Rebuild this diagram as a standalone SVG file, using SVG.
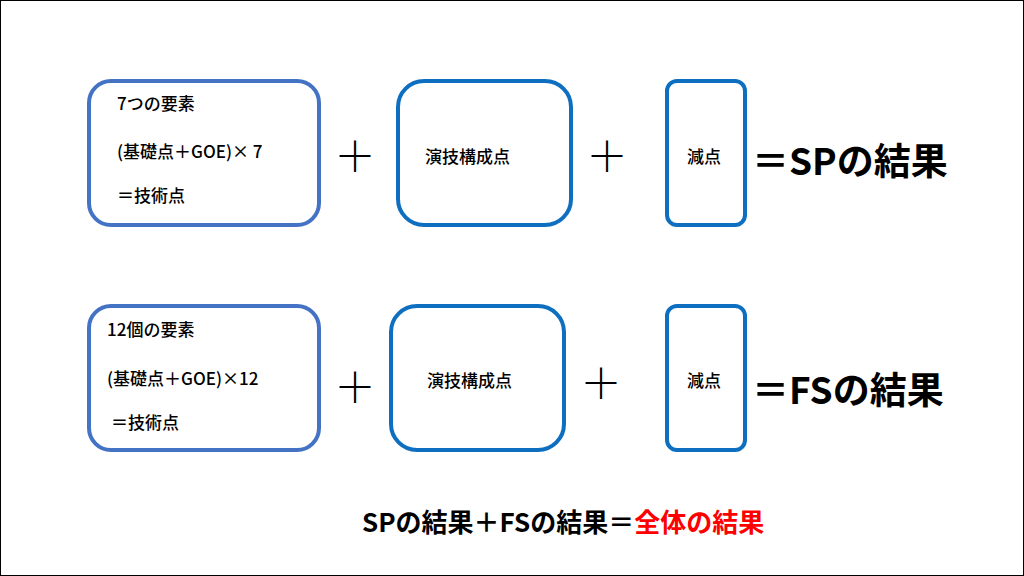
<svg xmlns="http://www.w3.org/2000/svg" width="1024" height="576" viewBox="0 0 1024 576">
<style>
.b1{fill:#fff;stroke:#4472C4;stroke-width:4}
.b2{fill:#fff;stroke:#0E6FC0;stroke-width:4}
text{font-family:"Noto Sans CJK JP","Liberation Sans",sans-serif;fill:#000}
.s{font-size:17px;font-weight:500}
.p{font-size:42px;font-weight:300}
.r{font-size:37px;font-weight:bold}
</style>
<rect x="0.5" y="0.5" width="1023" height="575" fill="#fff" stroke="#000"/>
<g id="sp-tech"><rect class="b1" x="89" y="81" width="230" height="144" rx="22"/>
<text class="s" x="117" y="110">7つの要素</text>
<text class="s" x="117" y="158">(基礎点＋GOE)× 7</text>
<text class="s" x="117" y="202">＝技術点</text></g>
<g id="sp-comp"><rect class="b2" x="398" y="81" width="173" height="144" rx="26"/>
<text class="s" x="425" y="163">演技構成点</text></g>
<g id="sp-ded"><rect class="b2" x="667" y="81" width="78" height="144" rx="10"/>
<text class="s" x="687" y="163">減点</text></g>
<g id="fs-tech"><rect class="b1" x="89" y="306" width="230" height="144" rx="22"/>
<text class="s" x="107" y="336">12個の要素</text>
<text class="s" x="107" y="385">(基礎点＋GOE)×12</text>
<text class="s" x="111" y="429">＝技術点</text></g>
<g id="fs-comp"><rect class="b2" x="391" y="306" width="173" height="144" rx="26"/>
<text class="s" x="427" y="387">演技構成点</text></g>
<g id="fs-ded"><rect class="b2" x="667" y="306" width="78" height="144" rx="10"/>
<text class="s" x="687" y="387">減点</text></g>
<g id="ops">
<text class="p" x="334" y="172">＋</text>
<text class="p" x="586" y="172">＋</text>
<text class="p" x="334" y="403">＋</text>
<text class="p" x="580" y="399">＋</text>
<text class="r" x="752" y="175">＝SPの結果</text>
<text class="r" x="752" y="404">＝FSの結果</text>
<text x="362" y="532" font-size="26" font-weight="bold">SPの結果＋FSの結果＝<tspan fill="#FF0000">全体の結果</tspan></text>
</g>
</svg>
